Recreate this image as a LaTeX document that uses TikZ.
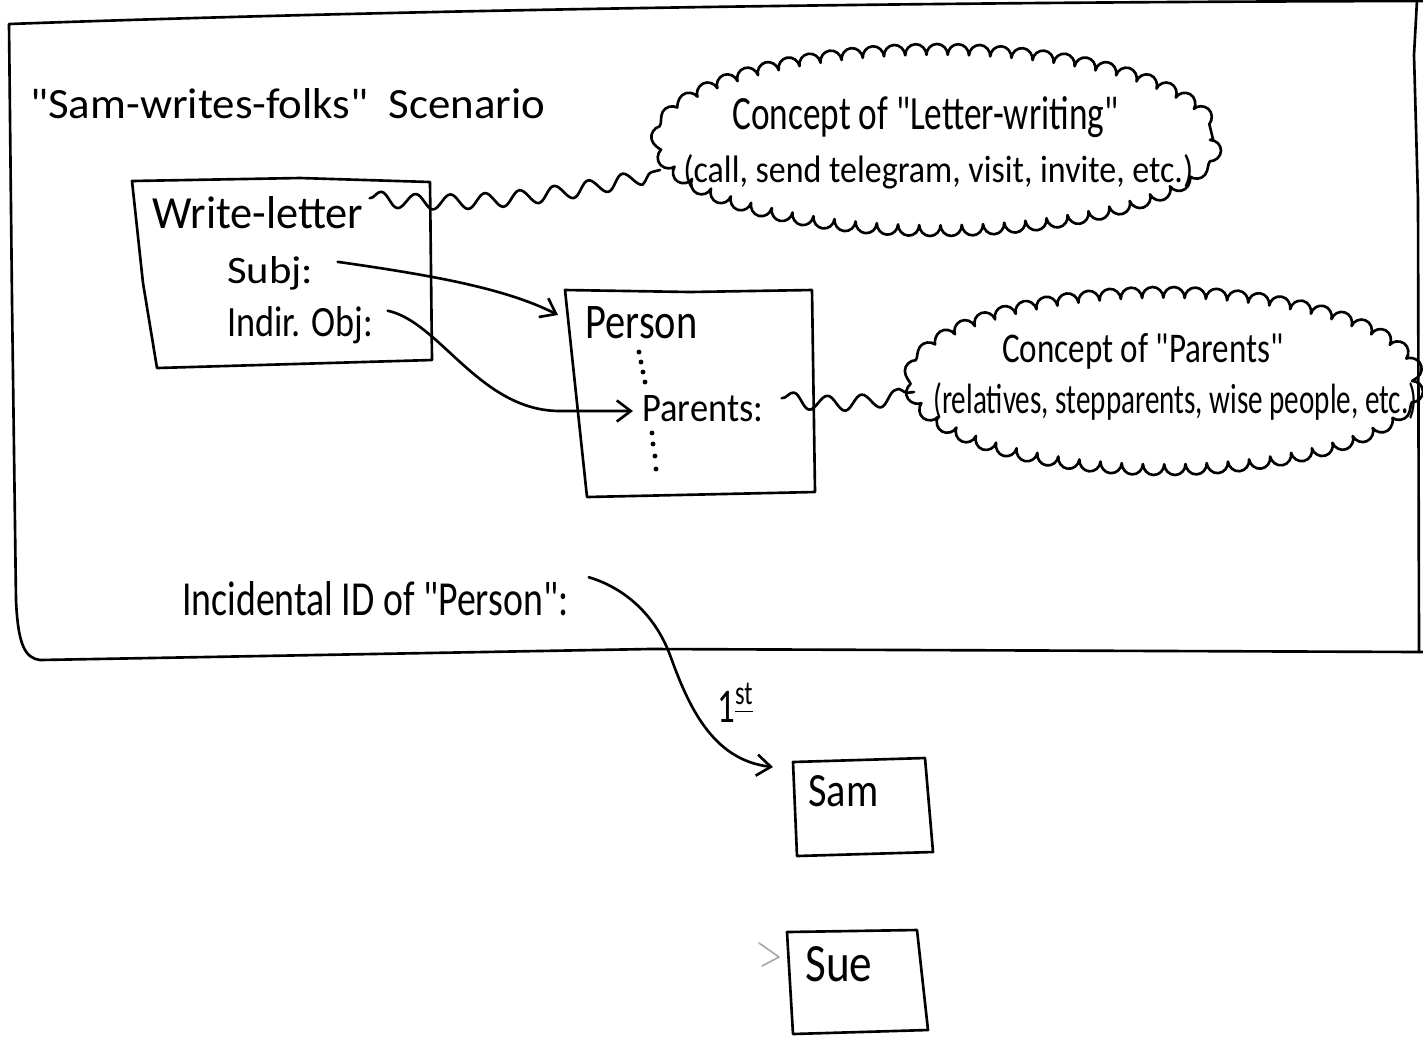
\documentclass[tikz,border=0pt]{standalone}
\usepackage{fontspec}
\setmainfont{Carlito}
\usetikzlibrary{arrows.meta,decorations.pathmorphing,calc}

% scale a piece of lettering to a given width and height (in cm)
\newcommand\inkfit[3]{\resizebox{#1cm}{#2cm}{#3}}
\newcommand\qq{\textquotedbl}

\tikzset{
  ink/.style={line width=1.5pt, line cap=round, line join=round},
  lbl/.style={inner sep=0pt, anchor=base west},
  barb/.style={-{Straight Barb[length=8pt,width=12pt]}},
  wavy/.style={decorate, decoration={snake, segment length=0.7cm, amplitude=0.15cm}},
  puffy/.style={decorate, decoration={bumps, segment length=0.85cm, amplitude=0.22cm}},
  dot/.style={fill=black},
  faint/.style={draw=black!35, line width=0.9pt, line cap=round, line join=round}
}

\begin{document}
\begin{tikzpicture}[x=0.02cm, y=-0.02cm]
\useasboundingbox (0,0) rectangle (1423,1036);

% ---- scenario frame ----
\draw[ink] (1423,1) .. controls (900,2) and (400,10) .. (9,24)
  -- (12,300) -- (16,600) .. controls (18,645) and (25,658) .. (40,660)
  -- (650,649) -- (1423,652);
\draw[ink] (1417,0) -- (1414,55) -- (1418,200) -- (1419,652);

% ---- title ----
\node[lbl] (title) at (30,118) {\inkfit{10.30}{0.60}{\qq Sam-writes-folks\qq\ \ Scenario}};

% ---- Write-letter frame ----
\draw[ink] (132,181) -- (300,178) -- (430,182) -- (432,360) -- (157,368) -- (143,283) -- cycle;
\node[lbl] (wl) at (152,228) {\inkfit{4.22}{0.64}{Write-letter}};
\node[lbl] (subj) at (227,283) {\inkfit{1.72}{0.54}{Subj:}};
\node[lbl] (indir) at (227,336) {\inkfit{2.92}{0.60}{Indir. Obj:}};

% ---- Person frame ----
\draw[ink] (565,290) -- (690,292) -- (812,290) -- (815,492) -- (587,497) -- cycle;
\node[lbl] (person) at (585,338) {\inkfit{2.24}{0.64}{Person}};
\node[lbl] (parents) at (642,421) {\inkfit{2.42}{0.52}{Parents:}};
\foreach \p in {(639,352),(641,362),(643,372),(645,382),
                (652,433),(653,444),(655,456),(656,469)}
  \fill[dot] \p circle[radius=1.4pt];

% ---- concept clouds ----
\node[inner sep=0pt, minimum width=11.0cm, minimum height=3.5cm] (cloud1) at (937,140) {};
\draw[ink, puffy] (cloud1.center) ellipse[x radius=273, y radius=85];
\node[lbl] (c1a) at (732,129) {\inkfit{7.72}{0.66}{Concept of \qq Letter-writing\qq}};
\node[lbl] (c1b) at (683,182) {\inkfit{10.20}{0.56}{(call, send telegram, visit, invite, etc.)}};

\node[inner sep=0pt, minimum width=10.0cm, minimum height=3.5cm] (cloud2) at (1164,381) {};
\draw[ink, puffy] (cloud2.center) ellipse[x radius=248, y radius=83];
\node[lbl] (c2a) at (1002,362) {\inkfit{5.62}{0.58}{Concept of \qq Parents\qq}};
\node[lbl] (c2b) at (933,413) {\inkfit{9.68}{0.62}{(relatives, stepparents, wise people, etc.)}};

% ---- lower part ----
\node[lbl] (incid) at (182,615) {\inkfit{7.72}{0.68}{Incidental ID of \qq Person\qq:}};
\node[lbl] (first) at (717,722) {\inkfit{0.74}{0.78}{1\textsuperscript{\underline{st}}}};

\draw[ink] (793,762) -- (925,758) -- (933,852) -- (797,856) -- cycle;
\node[lbl] (sam) at (808,806) {\inkfit{1.40}{0.62}{Sam}};
\draw[ink] (787,932) -- (917,930) -- (928,1030) -- (793,1034) -- cycle;
\node[lbl] (sue) at (805,981) {\inkfit{1.34}{0.70}{Sue}};

% ---- connector end points ----
\coordinate (wl out)     at ($(wl.east)+(6,-14)$);
\coordinate (cloud1 in)  at (660,170);
\coordinate (parents out) at ($(parents.east)+(18,-10)$);
\coordinate (cloud2 in)  at (914,392);
\coordinate (subj out)   at ($(subj.east)+(24,-11)$);
\coordinate (person in)  at (558,315);
\coordinate (indir out)  at ($(indir.east)+(14,-14)$);
\coordinate (parents in) at ($(parents.base west)+(-9,-10)$);
\coordinate (incid out)  at ($(incid.east)+(20,-21)$);
\coordinate (sam in)     at (773,767);

% ---- connectors ----
\draw[ink, wavy] (wl out) .. controls (470,208) and (570,192) .. (cloud1 in);
\draw[ink, wavy] (parents out) .. controls (840,408) and (880,396) .. (cloud2 in);

\draw[ink, barb] (subj out) .. controls (430,275) and (505,288) .. (person in);
\draw[ink, barb] (indir out) .. controls (440,322) and (480,411) .. (560,411) -- (parents in);
\draw[ink, barb] (incid out) .. controls (625,588) and (655,615) .. (670,655)
  .. controls (688,705) and (712,760) .. (sam in);

% faded tip pointing at Sue
\draw[faint] (759,943) -- (779,957) -- (762,966);
\end{tikzpicture}
\end{document}
